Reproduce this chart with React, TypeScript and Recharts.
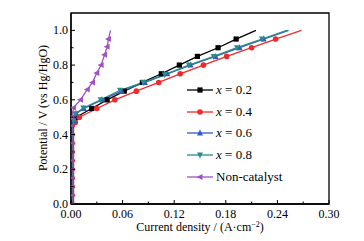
import React from 'react';
import { LineChart, Line, XAxis, YAxis, ReferenceArea } from 'recharts';

// potential steps on the flat (vertical) part, shared by every sample
const basePotential = [0, 0.05, 0.1, 0.15, 0.2, 0.25, 0.3, 0.35, 0.4, 0.45];

const potential02 = [0.48, 0.5, 0.55, 0.6, 0.65, 0.7, 0.75, 0.8, 0.85, 0.9, 0.95, 1.0];
const current02 = [0.004, 0.006, 0.024, 0.042, 0.062, 0.083, 0.105, 0.126, 0.147, 0.171, 0.192, 0.215];

const potential04 = [0.47, 0.5, 0.55, 0.6, 0.65, 0.7, 0.75, 0.8, 0.85, 0.9, 0.95, 1.0];
const current04 = [0.005, 0.0097, 0.03, 0.051, 0.076, 0.102, 0.127, 0.154, 0.181, 0.21, 0.238, 0.268];

const potential06 = [0.48, 0.52, 0.55, 0.6, 0.65, 0.7, 0.75, 0.8, 0.85, 0.9, 0.95, 1.0];
const current06 = [0.004, 0.006, 0.015, 0.036, 0.059, 0.086, 0.112, 0.139, 0.168, 0.196, 0.224, 0.253];

const potential08 = [0.48, 0.52, 0.553, 0.6, 0.655, 0.7, 0.745, 0.8, 0.85, 0.9, 0.95, 1.0];
const current08 = [0.003, 0.005, 0.0143, 0.0345, 0.057, 0.084, 0.109, 0.137, 0.166, 0.193, 0.222, 0.251];

const potentialNone = [0.5, 0.555, 0.6, 0.66, 0.7, 0.755, 0.8, 0.86, 0.905, 0.95, 1.0];
const currentNone = [0.001, 0.003, 0.011, 0.019, 0.025, 0.03, 0.035, 0.039, 0.042, 0.0435, 0.046];

const xTicks = [0, 0.03, 0.06, 0.09, 0.12, 0.15, 0.18, 0.21, 0.24, 0.27, 0.3];
const yTicks = [0, 0.1, 0.2, 0.3, 0.4, 0.5, 0.6, 0.7, 0.8, 0.9, 1.0, 1.1];

const build = (baseX: number, cur: number[], pot: number[]) => [
  ...basePotential.map((p) => ({ x: baseX, y: p })),
  ...cur.map((c, i) => ({ x: c, y: pot[i] })),
];

const series = [
  { name: '0.2', color: '#000000', shape: 'square', data: build(0.002, current02, potential02) },
  { name: '0.4', color: '#ee2a2a', shape: 'circle', data: build(0.003, current04, potential04) },
  { name: '0.6', color: '#3358c4', shape: 'up', data: build(0.002, current06, potential06) },
  { name: '0.8', color: '#2a8c8c', shape: 'down', data: build(0.002, current08, potential08) },
  { name: 'Non-catalyst', color: '#a052c2', shape: 'left', data: build(0.001, currentNone, potentialNone) },
];

const FONT = '"Liberation Serif", "Times New Roman", serif';

const marker = (shape: string, color: string, cx: number, cy: number, key?: string, k = 1) => {
  const s = 3 * k;
  const o = 0.5 * k;
  if (shape === 'square') return <rect key={key} x={cx - 2.6 * k} y={cy - 2.6 * k} width={5.2 * k} height={5.2 * k} fill={color} />;
  if (shape === 'circle') return <circle key={key} cx={cx} cy={cy} r={2.8 * k} fill={color} />;
  let pts = '';
  if (shape === 'up') pts = `${cx},${cy - s - o} ${cx - s},${cy + s - o} ${cx + s},${cy + s - o}`;
  if (shape === 'down') pts = `${cx},${cy + s + o} ${cx - s},${cy - s + o} ${cx + s},${cy - s + o}`;
  if (shape === 'left') pts = `${cx - s - o},${cy} ${cx + s - o},${cy - s} ${cx + s - o},${cy + s}`;
  return <polygon key={key} points={pts} fill={color} />;
};

const makeDot = (shape: string, color: string, n: number) => (props: any) => {
  const { cx, cy, index } = props;
  if (cx == null || cy == null || index === n - 1) return <g key={`d-${index}`} />;
  // markers on the steep part hug the axis and look like small dashes
  const k = index < basePotential.length ? 0.55 : 1;
  return marker(shape, color, cx, cy, `d-${index}`, k);
};

const XTick = (props: any) => {
  const { x, y, payload } = props;
  const major = Math.round(payload.value / 0.03) % 2 === 0;
  return (
    <g>
      <line x1={x} y1={y} x2={x} y2={y - (major ? 4 : 2.5)} stroke="#000" strokeWidth={1} />
      {major && (
        <text x={x} y={y + 14} textAnchor="middle" fontSize={12} fontFamily={FONT} fill="#000">
          {payload.value.toFixed(2)}
        </text>
      )}
    </g>
  );
};

const YTick = (props: any) => {
  const { x, y, payload } = props;
  const major = Math.round(payload.value * 10) % 2 === 0;
  if (payload.value > 1.05) return <g />;
  return (
    <g>
      <line x1={x} y1={y} x2={x + (major ? 4 : 2.5)} y2={y} stroke="#000" strokeWidth={1} />
      {major && (
        <text x={x - 3} y={y + 4} textAnchor="end" fontSize={12} fontFamily={FONT} fill="#000">
          {payload.value.toFixed(1)}
        </text>
      )}
    </g>
  );
};

const LegendBox = () => (
  <div style={{ fontFamily: FONT, fontSize: 13, color: '#000' }}>
    {series.map((s) => (
      <div key={s.name} style={{ display: 'flex', alignItems: 'center', height: 21.7 }}>
        <svg width={30} height={10}>
          <line x1={1} y1={5} x2={27} y2={5} stroke={s.color} strokeWidth={1.3} />
          {marker(s.shape, s.color, 14, 5)}
        </svg>
        <span style={{ whiteSpace: 'nowrap' }}>
          {s.name === 'Non-catalyst' ? 'Non-catalyst' : (
            <>
              <i>x</i> = {s.name}
            </>
          )}
        </span>
      </div>
    ))}
  </div>
);

const App: React.FC = () => {
  return (
    <div style={{ position: 'absolute', left: 0, top: 0, width: 364, height: 241, background: '#fff' }}>
      <LineChart width={364} height={241} margin={{ top: 13, right: 35, left: 0, bottom: 7 }}>
        <XAxis
          type="number"
          dataKey="x"
          domain={[0, 0.3]}
          ticks={xTicks}
          interval={0}
          height={30}
          tickSize={0}
          tickMargin={0}
          tickLine={false}
          tick={<XTick />}
          axisLine={{ stroke: '#000', strokeWidth: 1.3 }}
          allowDataOverflow
          label={{
            content: () => (
              <text x={200} y={231} textAnchor="middle" fontSize={12} fontFamily={FONT} fill="#000">
                Current density / (A·cm<tspan dy={-4} fontSize={8}>−2</tspan>
                <tspan dy={4}>)</tspan>
              </text>
            ),
          }}
        />
        <YAxis
          type="number"
          dataKey="y"
          domain={[0, 1.1]}
          ticks={yTicks}
          interval={0}
          width={71}
          tickSize={0}
          tickMargin={0}
          tickLine={false}
          tick={<YTick />}
          axisLine={{ stroke: '#000', strokeWidth: 1.3 }}
          allowDataOverflow
          label={{
            content: () => (
              <text
                transform="translate(47,108) rotate(-90)"
                textAnchor="middle"
                fontSize={12}
                fontFamily={FONT}
                fill="#000"
              >
                Potential / V (vs Hg/HgO)
              </text>
            ),
          }}
        />
        <ReferenceArea x1={0} x2={0.3} y1={0} y2={1.1} fill="none" stroke="#000" strokeWidth={1.3} ifOverflow="visible" />
        {series.map((s) => (
          <Line
            key={s.name}
            data={s.data}
            dataKey="y"
            type="linear"
            stroke={s.color}
            strokeWidth={1.3}
            dot={makeDot(s.shape, s.color, s.data.length)}
            activeDot={false}
            isAnimationActive={false}
          />
        ))}
      </LineChart>
      <div style={{ position: 'absolute', left: 186, top: 79 }}>
        <LegendBox />
      </div>
    </div>
  );
};

export default App;
